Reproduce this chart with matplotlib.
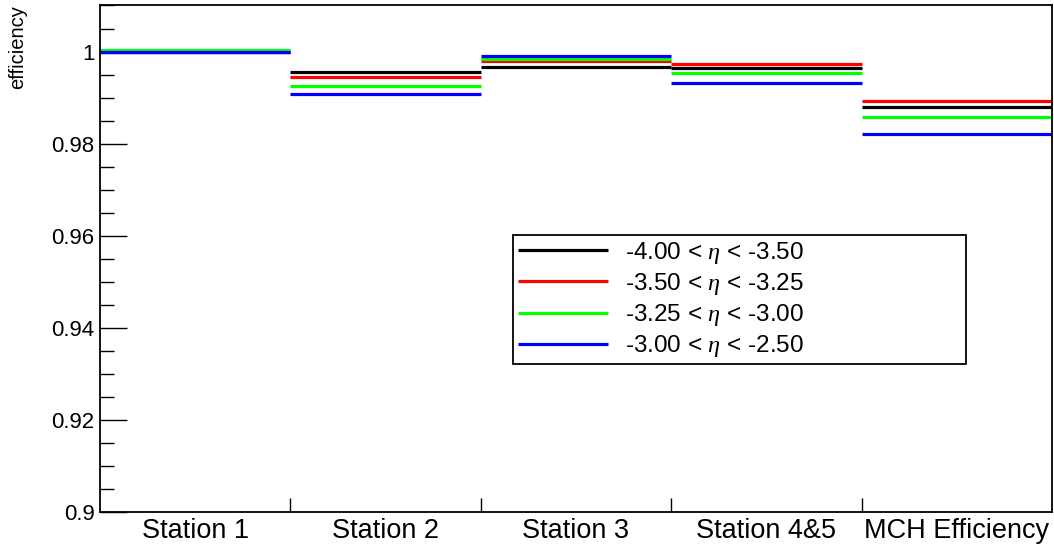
import matplotlib
matplotlib.use("Agg")
import matplotlib.pyplot as plt
from matplotlib.ticker import MultipleLocator, FixedLocator, FuncFormatter

plt.rcParams['font.family'] = ['Liberation Sans', 'DejaVu Sans']
plt.rcParams['mathtext.fontset'] = 'custom'
plt.rcParams['mathtext.it'] = 'Liberation Serif:italic'

categories = ["Station 1", "Station 2", "Station 3", "Station 4&5", "MCH Efficiency"]
labels = [r"-4.00 < $\eta$ < -3.50", r"-3.50 < $\eta$ < -3.25",
          r"-3.25 < $\eta$ < -3.00", r"-3.00 < $\eta$ < -2.50"]
colors = ["#000000", "#ff0000", "#00ff00", "#0000ff"]

eta_m400_m350 = [1.0000, 0.99559, 0.99667, 0.99646, 0.98800]
eta_m350_m325 = [1.0000, 0.99450, 0.99798, 0.99733, 0.98920]
eta_m325_m300 = [1.0003, 0.99246, 0.99841, 0.99528, 0.98580]
eta_m300_m250 = [0.9999, 0.99080, 0.99898, 0.99320, 0.98220]
series = [eta_m400_m350, eta_m350_m325, eta_m325_m300, eta_m300_m250]

fig = plt.figure(figsize=(10.54, 5.49), dpi=100)
ax = fig.add_axes([0.0949, 0.0665, 0.9032, 0.9244])

n = len(categories)
left = [i - 0.5 for i in range(n)]
right = [i + 0.5 for i in range(n)]
for vals, col, lab in zip(series, colors, labels):
    ax.hlines(vals, left, right, colors=col, lw=2.3, label=lab)

ax.set_xlim(-0.5, n - 0.5)
ax.set_ylim(0.9, 1.0101)

# x axis: category labels at centers, ticks at bin edges
ax.set_xticks(range(n))
ax.set_xticklabels(categories, fontsize=19.5)
ax.tick_params(axis='x', which='major', length=0, pad=4)
ax.xaxis.set_minor_locator(FixedLocator([i + 0.5 for i in range(n - 1)]))
ax.tick_params(axis='x', which='minor', direction='in', length=10, width=1.0, top=False)

# y axis
ax.yaxis.set_major_locator(MultipleLocator(0.02))
ax.yaxis.set_minor_locator(MultipleLocator(0.005))
ax.yaxis.set_major_formatter(FuncFormatter(lambda v, p: "%g" % round(v, 4)))
ax.tick_params(axis='y', which='major', direction='in', length=19.5, width=1.0,
               labelsize=16, pad=4, right=False)
ax.tick_params(axis='y', which='minor', direction='in', length=10, width=1.0, right=False)

for s in ax.spines.values():
    s.set_linewidth(1.3)
    s.set_color('black')

fig.text(0.0171, 0.9909, "efficiency", rotation=90, ha='center', va='top', fontsize=14.5)

leg = ax.legend(loc='upper left', bbox_to_anchor=(0.434, 0.2966, 0.4757, 0.2502),
                mode='expand', borderaxespad=0, fontsize=17.5, handlelength=3.7,
                handletextpad=0.7, labelspacing=0.21, borderpad=0.2,
                fancybox=False, framealpha=1, edgecolor='black')
leg.get_frame().set_linewidth(1.3)
for line in leg.get_lines():
    line.set_linewidth(2.3)

fig.savefig("out.png", dpi=100)
